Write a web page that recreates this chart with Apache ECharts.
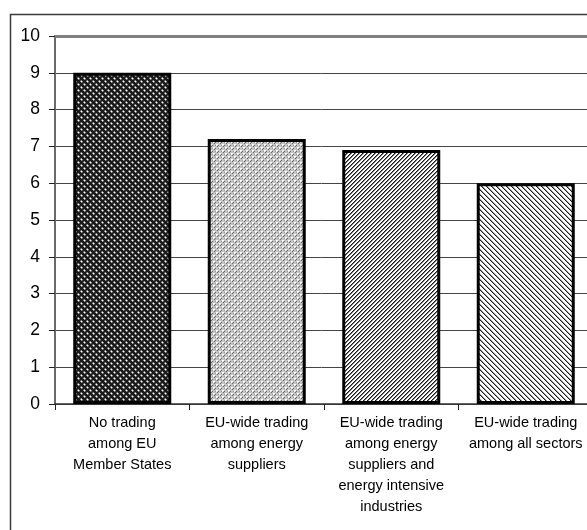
<!DOCTYPE html>
<html>
<head>
<meta charset="utf-8">
<script src="https://cdn.jsdelivr.net/npm/echarts@6/dist/echarts.min.js"></script>
<style>
  html, body { margin: 0; padding: 0; background: #fff; }
  #chart { width: 587px; height: 530px; }
</style>
</head>
<body>
<div id="chart"></div>
<script>
// Scenario labels along the category axis
const categories = [
  'No trading\namong EU\nMember States',
  'EU-wide trading\namong energy\nsuppliers',
  'EU-wide trading\namong energy\nsuppliers and\nenergy intensive\nindustries',
  'EU-wide trading\namong all sectors'
];
// Bar heights per scenario
const values = [9.0, 7.2, 6.9, 6.0];
// Value-axis range
const yMin = 0;
const yMax = 10;
const yStep = 1;

// Small repeating hatch tiles used as bar fills
function tile(w, h, draw) {
  const c = document.createElement('canvas');
  c.width = w; c.height = h;
  const ctx = c.getContext('2d');
  draw(ctx, w, h);
  return c;
}
function px(ctx, x, y, col) { ctx.fillStyle = col; ctx.fillRect(x, y, 1, 1); }

// Dark lattice
const darkLattice = tile(6, 6, (ctx) => {
  ctx.fillStyle = '#1a1a1a'; ctx.fillRect(0, 0, 6, 6);
  px(ctx, 0, 0, '#ffffff');
  px(ctx, 3, 3, '#ffffff');
  px(ctx, 1, 0, '#8a8a8a'); px(ctx, 5, 0, '#8a8a8a');
  px(ctx, 0, 1, '#8a8a8a'); px(ctx, 0, 5, '#8a8a8a');
  px(ctx, 2, 3, '#8a8a8a'); px(ctx, 4, 3, '#8a8a8a');
  px(ctx, 3, 2, '#8a8a8a'); px(ctx, 3, 4, '#8a8a8a');
  px(ctx, 1, 1, '#4a4a4a'); px(ctx, 2, 2, '#4a4a4a');
  px(ctx, 4, 4, '#4a4a4a'); px(ctx, 5, 5, '#4a4a4a');
});
// Light lattice
const lightLattice = tile(6, 6, (ctx) => {
  ctx.fillStyle = '#c4c4c4'; ctx.fillRect(0, 0, 6, 6);
  px(ctx, 0, 0, '#ffffff'); px(ctx, 1, 0, '#ffffff'); px(ctx, 0, 1, '#ffffff');
  px(ctx, 3, 3, '#ffffff'); px(ctx, 4, 3, '#ffffff'); px(ctx, 3, 4, '#ffffff');
  px(ctx, 2, 1, '#6a6a6a'); px(ctx, 1, 2, '#6a6a6a');
  px(ctx, 5, 4, '#6a6a6a'); px(ctx, 4, 5, '#6a6a6a');
  px(ctx, 2, 4, '#9a9a9a'); px(ctx, 5, 1, '#9a9a9a');
});
// Forward diagonal stripes
const forwardHatch = tile(4, 4, (ctx) => {
  ctx.fillStyle = '#ffffff'; ctx.fillRect(0, 0, 4, 4);
  for (let i = 0; i < 4; i++) {
    ctx.fillStyle = '#1a1a1a';
    ctx.fillRect(i, 3 - i, 1, 1);
    ctx.fillStyle = '#7a7a7a';
    ctx.fillRect((i + 1) % 4, 3 - i, 1, 1);
  }
});
// Backward diagonal stripes
const backHatch = tile(5, 5, (ctx) => {
  ctx.fillStyle = '#ffffff'; ctx.fillRect(0, 0, 5, 5);
  for (let i = 0; i < 5; i++) {
    ctx.fillStyle = '#1a1a1a';
    ctx.fillRect(i, i, 1, 1);
    ctx.fillStyle = '#9a9a9a';
    ctx.fillRect((i + 1) % 5, i, 1, 1);
  }
});
const fills = [darkLattice, lightLattice, forwardHatch, backHatch];

const chart = echarts.init(document.getElementById('chart'), null, { renderer: 'canvas' });
const font = 'Liberation Sans, Arial, sans-serif';

chart.setOption({
  animation: false,
  backgroundColor: '#ffffff',
  graphic: [{
    type: 'rect',
    shape: { x: 10.5, y: 14.5, width: 600, height: 540 },
    style: { fill: 'none', stroke: '#3a3a3a', lineWidth: 1.5 },
    z: -1
  }],
  grid: {
    left: 55, top: 36, width: 538, bottom: 126,
    containLabel: false, outerBoundsMode: 'none'
  },
  xAxis: [{
    type: 'category',
    data: categories,
    position: 'bottom',
    axisLine: { show: true, lineStyle: { color: '#333', width: 1.5 } },
    axisTick: { show: true, alignWithLabel: false, length: 6, lineStyle: { color: '#222', width: 1 } },
    axisLabel: {
      interval: 0, margin: 8, color: '#000',
      fontFamily: font, fontSize: 14.5, lineHeight: 21, align: 'center'
    },
    splitLine: { show: false }
  }, {
    type: 'category',
    data: categories,
    position: 'top',
    axisLine: { show: true, lineStyle: { color: '#808080', width: 3 } },
    axisTick: { show: false },
    axisLabel: { show: false }
  }],
  yAxis: {
    type: 'value',
    min: yMin, max: yMax, interval: yStep,
    axisLine: { show: true, lineStyle: { color: '#6a6a6a', width: 2 } },
    axisTick: { show: true, inside: false, length: 6, lineStyle: { color: '#222', width: 1 } },
    axisLabel: { color: '#000', fontFamily: font, fontSize: 17.5, margin: 15 },
    splitLine: { show: true, lineStyle: { color: '#444', width: 1 } }
  },
  series: [{
    type: 'bar',
    xAxisIndex: 0,
    barWidth: 98,
    data: values.map((v, i) => ({
      value: v,
      itemStyle: { color: { image: fills[i], repeat: 'repeat' } }
    })),
    itemStyle: { borderColor: '#000', borderWidth: 3 }
  }]
});
</script>
</body>
</html>
